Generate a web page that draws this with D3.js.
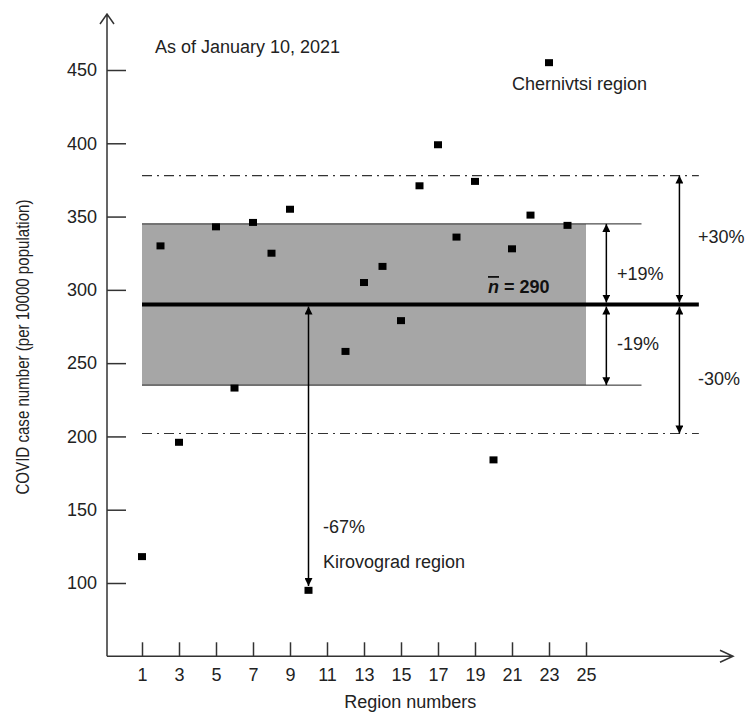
<!DOCTYPE html>
<html>
<head>
<meta charset="utf-8">
<script src="https://cdn.jsdelivr.net/npm/d3@7"></script>
<style>
  body { margin: 0; background: #fff; }
  svg { display: block; font-family: "Liberation Sans", Arial, sans-serif; }
</style>
</head>
<body>
<div id="chart"></div>
<script>
// Region number and COVID cases per 10000 population
const regions = [1, 2, 3, 5, 6, 7, 8, 9, 10, 12, 13, 14, 15, 16, 17, 18, 19, 20, 21, 22, 23, 24];
const cases = [118, 330, 196, 343, 233, 346, 325, 355, 95, 258, 305, 316, 279, 371, 399, 336, 374, 184, 328, 351, 455, 344];

const xTicks = [1, 3, 5, 7, 9, 11, 13, 15, 17, 19, 21, 23, 25];
const yTicks = [100, 150, 200, 250, 300, 350, 400, 450];

const meanValue = 290;
const bandValues = [235, 345];     // +-19%
const outerValues = [202, 378];    // +-30%
const kirovogradValue = 98;

const data = regions.map((r, i) => ({ region: r, value: cases[i] }));

const margin = { top: 14, right: 12, bottom: 56, left: 107 },
  width = 745 - margin.left - margin.right,
  height = 713 - margin.top - margin.bottom;

const fontSize = "18px";

const svg = d3.select("#chart")
  .append("svg")
  .attr("width", width + margin.left + margin.right)
  .attr("height", height + margin.top + margin.bottom);

const defs = svg.append("defs");
defs.append("marker")
  .attr("id", "head")
  .attr("viewBox", "0 0 10 10")
  .attr("refX", 10)
  .attr("refY", 5)
  .attr("markerWidth", 8)
  .attr("markerHeight", 8)
  .attr("markerUnits", "userSpaceOnUse")
  .attr("orient", "auto-start-reverse")
  .append("path")
  .attr("d", "M0,0L10,5L0,10Z")
  .attr("fill", "#000");

const g = svg.append("g")
  .attr("transform", `translate(${margin.left},${margin.top})`);

const x = d3.scaleLinear()
  .domain([1, 25])
  .range([35, 479]);

const y = d3.scaleLinear()
  .domain([100, 450])
  .range([569, 56]);

const x0 = 0, y0 = y(50);

// grey +-19% band
g.append("rect")
  .attr("x", x(1))
  .attr("y", y(bandValues[1]))
  .attr("width", x(25) - x(1))
  .attr("height", y(bandValues[0]) - y(bandValues[1]))
  .attr("fill", "#a6a6a6");

// band edges
bandValues.forEach(v => {
  g.append("line")
    .attr("x1", x(1)).attr("x2", x(28))
    .attr("y1", y(v)).attr("y2", y(v))
    .attr("stroke", "#222")
    .attr("stroke-width", 1);
});

// +-30% dash-dot lines
outerValues.forEach(v => {
  g.append("line")
    .attr("x1", x(1)).attr("x2", x(31.1))
    .attr("y1", y(v)).attr("y2", y(v))
    .attr("stroke", "#333")
    .attr("stroke-width", 1.2)
    .attr("stroke-dasharray", "10,5,2,5");
});

// mean line
g.append("line")
  .attr("x1", x(1)).attr("x2", x(31.1))
  .attr("y1", y(meanValue)).attr("y2", y(meanValue))
  .attr("stroke", "#000")
  .attr("stroke-width", 4);

// double-headed arrows
function arrow(xv, v1, v2) {
  g.append("line")
    .attr("x1", x(xv)).attr("x2", x(xv))
    .attr("y1", y(v1) + (v1 > v2 ? 2 : -2))
    .attr("y2", y(v2))
    .attr("stroke", "#000")
    .attr("stroke-width", 1.5)
    .attr("marker-start", "url(#head)")
    .attr("marker-end", "url(#head)");
}
arrow(26.1, meanValue, bandValues[1]);
arrow(26.1, meanValue, bandValues[0]);
arrow(30.05, meanValue, outerValues[1]);
arrow(30.05, meanValue, outerValues[0]);
arrow(10, meanValue, kirovogradValue);

// points
g.selectAll(".pt")
  .data(data)
  .enter()
  .append("rect")
  .attr("class", "pt")
  .attr("x", d => x(d.region) - 4)
  .attr("y", d => y(d.value) - 3.5)
  .attr("width", 8)
  .attr("height", 7)
  .attr("fill", "#000");

// y axis
const yAxis = g.append("g")
  .call(d3.axisLeft(y).tickValues(yTicks).tickSize(-19).tickPadding(10));
yAxis.select(".domain").remove();
yAxis.selectAll("line").attr("stroke", "#333").attr("stroke-width", 1.5);
yAxis.selectAll("text")
  .style("font-size", fontSize)
  .style("fill", "#222");

// x axis
const xAxis = g.append("g")
  .attr("transform", `translate(0,${y0})`)
  .call(d3.axisBottom(x).tickValues(xTicks).tickSize(-14).tickPadding(12));
xAxis.select(".domain").remove();
xAxis.selectAll("line").attr("stroke", "#333").attr("stroke-width", 1.5);
xAxis.selectAll("text")
  .style("font-size", fontSize)
  .style("fill", "#222");

// axis lines with open arrow ends
g.append("path")
  .attr("d", `M${x0},${y0}V0M${x0 - 7},10L${x0},0L${x0 + 7},10`)
  .attr("fill", "none")
  .attr("stroke", "#333")
  .attr("stroke-width", 1.5);

g.append("path")
  .attr("d", `M${x0},${y0}H${width}M${width - 13},${y0 - 6}L${width},${y0}L${width - 13},${y0 + 6}`)
  .attr("fill", "none")
  .attr("stroke", "#333")
  .attr("stroke-width", 1.5);

// axis titles
g.append("text")
  .attr("x", x(15.5))
  .attr("y", y0 + 52)
  .attr("text-anchor", "middle")
  .style("font-size", fontSize)
  .style("fill", "#222")
  .text("Region numbers");

g.append("text")
  .attr("transform", `translate(${-78},${y(261)}) rotate(-90)`)
  .attr("text-anchor", "middle")
  .attr("textLength", 295)
  .attr("lengthAdjust", "spacingAndGlyphs")
  .style("font-size", fontSize)
  .style("fill", "#222")
  .text("COVID case number (per 10000 population)");

// annotations
const note = (tx, ty, str) => g.append("text")
  .attr("x", tx).attr("y", ty)
  .style("font-size", fontSize)
  .style("fill", "#222")
  .text(str);

note(48, 39, "As of January 10, 2021");
note(405, 76, "Chernivtsi region");
note(510, 266, "+19%");
note(510, 336, "-19%");
note(591, 229, "+30%");
note(591, 371, "-30%");
note(216, 519, "-67%");
note(216, 554, "Kirovograd region");

const meanLabel = g.append("text")
  .attr("x", 381)
  .attr("y", 279)
  .style("font-size", fontSize)
  .style("font-weight", "bold")
  .style("fill", "#111");
meanLabel.append("tspan")
  .style("font-style", "italic")
  .style("text-decoration", "overline")
  .text("n");
meanLabel.append("tspan").text(" = " + meanValue);
</script>
</body>
</html>
